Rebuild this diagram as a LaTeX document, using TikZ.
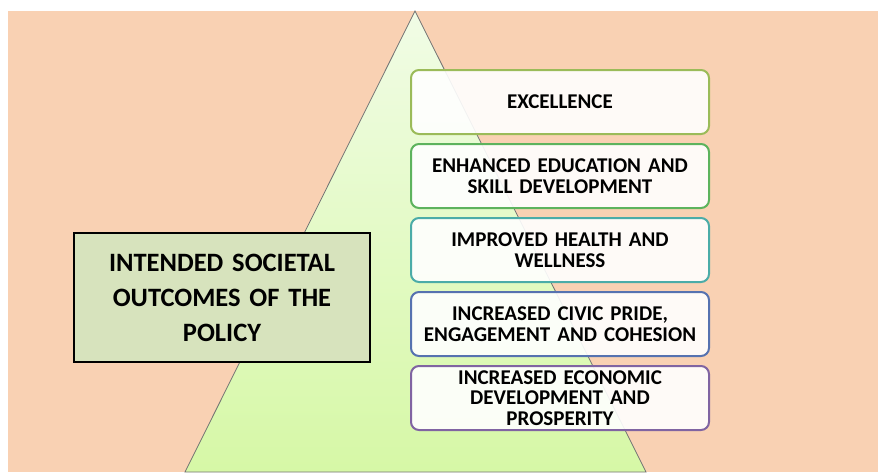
\documentclass[tikz,border=0pt]{standalone}
\usepackage{fontspec}
\setmainfont{Carlito}
\definecolor{peach}{HTML}{F9D1B3}
\definecolor{apexGreen}{HTML}{F1FCE6}
\definecolor{baseGreen}{HTML}{D6F8A6}
\definecolor{titleFill}{HTML}{D7E3BD}
\definecolor{edgeOne}{HTML}{9BBB59}
\definecolor{edgeTwo}{HTML}{5DB35D}
\definecolor{edgeThree}{HTML}{4BACA8}
\definecolor{edgeFour}{HTML}{5672B0}
\definecolor{edgeFive}{HTML}{8064A2}

\begin{document}
\begin{tikzpicture}[x=1pt, y=-1pt]
            \tikzstyle{outcomeStyle} = [draw, line width=2pt, rounded corners=8pt,
                fill=white, fill opacity=0.9, text opacity=1,
                minimum width=298pt, minimum height=64pt, text width=294pt,
                inner sep=0pt, align=center, font=\bfseries\fontsize{21}{20.5}\selectfont]
            \tikzstyle{titleStyle} = [draw=black, line width=2pt, fill=titleFill,
                minimum width=296pt, minimum height=129pt, text width=290pt,
                inner sep=0pt, align=center, font=\bfseries\fontsize{26.5}{35}\selectfont]
            \useasboundingbox (0,0) rectangle (878,472);
            \fill[white] (0,0) rectangle (878,472);
            \fill[peach] (8,11) rectangle (878,472);
            % pyramid
            \shade[top color=apexGreen, bottom color=baseGreen, draw=black!55, line width=0.8pt]
                (415,11) -- (646,472) -- (185,472) -- cycle;
            \node[titleStyle] (title) at (222,297.5)
                {INTENDED SOCIETAL\\OUTCOMES OF THE\\POLICY};
            \node[outcomeStyle, draw=edgeOne]   (excel)  at (560,102) {EXCELLENCE};
            \node[outcomeStyle, draw=edgeTwo]   (educ)   at (560,176) {ENHANCED EDUCATION AND\\SKILL DEVELOPMENT};
            \node[outcomeStyle, draw=edgeThree] (health) at (560,250) {IMPROVED HEALTH AND\\WELLNESS};
            \node[outcomeStyle, draw=edgeFour]  (civic)  at (560,324) {INCREASED CIVIC PRIDE,\\ENGAGEMENT AND COHESION};
            \node[outcomeStyle, draw=edgeFive]  (econ)   at (560,398) {INCREASED ECONOMIC\\DEVELOPMENT AND\\PROSPERITY};
        \end{tikzpicture}
\end{document}
